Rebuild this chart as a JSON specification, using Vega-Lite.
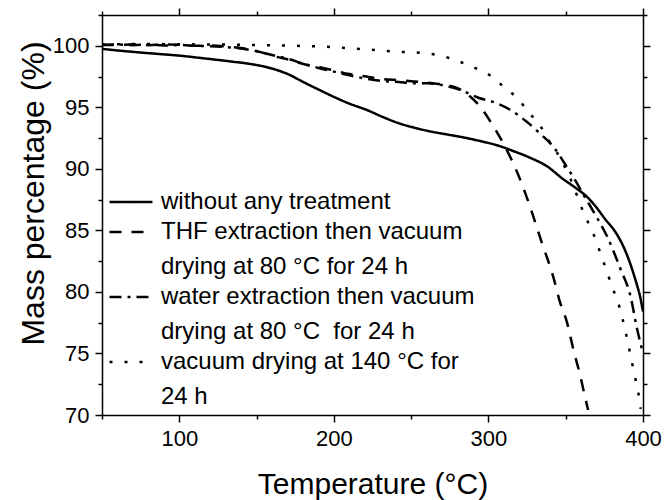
{
  "$schema": "https://vega.github.io/schema/vega-lite/v6.json",
  "width": 541,
  "height": 400,
  "autosize": {"type": "none"},
  "padding": {"left": 102, "top": 15, "right": 22, "bottom": 85},
  "background": "white",
  "config": {
    "view": {"stroke": null},
    "font": "Liberation Sans",
    "axis": {
      "domainColor": "black", "tickColor": "black", "labelColor": "black", "titleColor": "black",
      "labelFont": "Liberation Sans", "titleFont": "Liberation Sans",
      "labelFontSize": 22, "titleFontWeight": "normal", "grid": false,
      "domainWidth": 1.5, "tickWidth": 1.5, "labelFlush": false
    },
    "legend": {"labelFont": "Liberation Sans", "labelColor": "black"},
    "style": {"guide-label": {"lineHeight": 35}}
  },
  "data": {"values": [
    {"s": "without any treatment", "T": 50, "m": 99.75},
    {"s": "without any treatment", "T": 60, "m": 99.62},
    {"s": "without any treatment", "T": 75, "m": 99.45},
    {"s": "without any treatment", "T": 90, "m": 99.3},
    {"s": "without any treatment", "T": 100, "m": 99.2},
    {"s": "without any treatment", "T": 113, "m": 99.02},
    {"s": "without any treatment", "T": 125, "m": 98.85},
    {"s": "without any treatment", "T": 135, "m": 98.7},
    {"s": "without any treatment", "T": 146, "m": 98.52},
    {"s": "without any treatment", "T": 157, "m": 98.25},
    {"s": "without any treatment", "T": 165, "m": 97.95},
    {"s": "without any treatment", "T": 172, "m": 97.6},
    {"s": "without any treatment", "T": 178, "m": 97.2},
    {"s": "without any treatment", "T": 190, "m": 96.45},
    {"s": "without any treatment", "T": 200, "m": 95.85},
    {"s": "without any treatment", "T": 210, "m": 95.3},
    {"s": "without any treatment", "T": 221, "m": 94.8},
    {"s": "without any treatment", "T": 231, "m": 94.25},
    {"s": "without any treatment", "T": 241, "m": 93.75},
    {"s": "without any treatment", "T": 252, "m": 93.35},
    {"s": "without any treatment", "T": 262, "m": 93.05},
    {"s": "without any treatment", "T": 273, "m": 92.8},
    {"s": "without any treatment", "T": 284, "m": 92.55},
    {"s": "without any treatment", "T": 295, "m": 92.25},
    {"s": "without any treatment", "T": 306, "m": 91.9},
    {"s": "without any treatment", "T": 316, "m": 91.45},
    {"s": "without any treatment", "T": 327, "m": 90.9},
    {"s": "without any treatment", "T": 338, "m": 90.2},
    {"s": "without any treatment", "T": 348, "m": 89.2},
    {"s": "without any treatment", "T": 357, "m": 88.4},
    {"s": "without any treatment", "T": 364, "m": 87.7},
    {"s": "without any treatment", "T": 369, "m": 87.0},
    {"s": "without any treatment", "T": 375, "m": 86.0},
    {"s": "without any treatment", "T": 383, "m": 84.7},
    {"s": "without any treatment", "T": 388, "m": 83.5},
    {"s": "without any treatment", "T": 392, "m": 82.2},
    {"s": "without any treatment", "T": 396, "m": 80.6},
    {"s": "without any treatment", "T": 398, "m": 79.7},
    {"s": "without any treatment", "T": 400, "m": 78.4},

    {"s": "THF extraction then vacuum|drying at 80 °C for 24 h", "T": 50, "m": 100.1},
    {"s": "THF extraction then vacuum|drying at 80 °C for 24 h", "T": 60, "m": 100.05},
    {"s": "THF extraction then vacuum|drying at 80 °C for 24 h", "T": 70, "m": 100.12},
    {"s": "THF extraction then vacuum|drying at 80 °C for 24 h", "T": 80, "m": 100.05},
    {"s": "THF extraction then vacuum|drying at 80 °C for 24 h", "T": 90, "m": 100.1},
    {"s": "THF extraction then vacuum|drying at 80 °C for 24 h", "T": 100, "m": 100.08},
    {"s": "THF extraction then vacuum|drying at 80 °C for 24 h", "T": 110, "m": 100.0},
    {"s": "THF extraction then vacuum|drying at 80 °C for 24 h", "T": 120, "m": 100.02},
    {"s": "THF extraction then vacuum|drying at 80 °C for 24 h", "T": 130, "m": 99.95},
    {"s": "THF extraction then vacuum|drying at 80 °C for 24 h", "T": 138, "m": 99.85},
    {"s": "THF extraction then vacuum|drying at 80 °C for 24 h", "T": 146, "m": 99.7},
    {"s": "THF extraction then vacuum|drying at 80 °C for 24 h", "T": 155, "m": 99.4},
    {"s": "THF extraction then vacuum|drying at 80 °C for 24 h", "T": 163, "m": 99.1},
    {"s": "THF extraction then vacuum|drying at 80 °C for 24 h", "T": 170, "m": 98.9},
    {"s": "THF extraction then vacuum|drying at 80 °C for 24 h", "T": 178, "m": 98.6},
    {"s": "THF extraction then vacuum|drying at 80 °C for 24 h", "T": 186, "m": 98.35},
    {"s": "THF extraction then vacuum|drying at 80 °C for 24 h", "T": 193, "m": 98.2},
    {"s": "THF extraction then vacuum|drying at 80 °C for 24 h", "T": 200, "m": 98.0},
    {"s": "THF extraction then vacuum|drying at 80 °C for 24 h", "T": 210, "m": 97.7},
    {"s": "THF extraction then vacuum|drying at 80 °C for 24 h", "T": 221, "m": 97.5},
    {"s": "THF extraction then vacuum|drying at 80 °C for 24 h", "T": 231, "m": 97.3},
    {"s": "THF extraction then vacuum|drying at 80 °C for 24 h", "T": 242, "m": 97.2},
    {"s": "THF extraction then vacuum|drying at 80 °C for 24 h", "T": 252, "m": 97.1},
    {"s": "THF extraction then vacuum|drying at 80 °C for 24 h", "T": 264, "m": 96.95},
    {"s": "THF extraction then vacuum|drying at 80 °C for 24 h", "T": 273, "m": 96.8},
    {"s": "THF extraction then vacuum|drying at 80 °C for 24 h", "T": 281, "m": 96.5},
    {"s": "THF extraction then vacuum|drying at 80 °C for 24 h", "T": 288, "m": 95.9},
    {"s": "THF extraction then vacuum|drying at 80 °C for 24 h", "T": 295, "m": 95.0},
    {"s": "THF extraction then vacuum|drying at 80 °C for 24 h", "T": 303, "m": 93.5},
    {"s": "THF extraction then vacuum|drying at 80 °C for 24 h", "T": 312, "m": 91.5},
    {"s": "THF extraction then vacuum|drying at 80 °C for 24 h", "T": 319, "m": 89.6},
    {"s": "THF extraction then vacuum|drying at 80 °C for 24 h", "T": 327, "m": 86.9},
    {"s": "THF extraction then vacuum|drying at 80 °C for 24 h", "T": 334, "m": 84.2},
    {"s": "THF extraction then vacuum|drying at 80 °C for 24 h", "T": 342, "m": 81.2},
    {"s": "THF extraction then vacuum|drying at 80 °C for 24 h", "T": 346, "m": 79.3},
    {"s": "THF extraction then vacuum|drying at 80 °C for 24 h", "T": 351, "m": 77.45},
    {"s": "THF extraction then vacuum|drying at 80 °C for 24 h", "T": 355, "m": 75.3},
    {"s": "THF extraction then vacuum|drying at 80 °C for 24 h", "T": 359, "m": 73.4},
    {"s": "THF extraction then vacuum|drying at 80 °C for 24 h", "T": 363, "m": 71.2},
    {"s": "THF extraction then vacuum|drying at 80 °C for 24 h", "T": 364.5, "m": 70.4},

    {"s": "water extraction then vacuum|drying at 80 °C\u00a0 for 24 h", "T": 50, "m": 100.05},
    {"s": "water extraction then vacuum|drying at 80 °C\u00a0 for 24 h", "T": 60, "m": 100.1},
    {"s": "water extraction then vacuum|drying at 80 °C\u00a0 for 24 h", "T": 70, "m": 100.05},
    {"s": "water extraction then vacuum|drying at 80 °C\u00a0 for 24 h", "T": 80, "m": 100.1},
    {"s": "water extraction then vacuum|drying at 80 °C\u00a0 for 24 h", "T": 90, "m": 100.02},
    {"s": "water extraction then vacuum|drying at 80 °C\u00a0 for 24 h", "T": 100, "m": 100.06},
    {"s": "water extraction then vacuum|drying at 80 °C\u00a0 for 24 h", "T": 110, "m": 100.0},
    {"s": "water extraction then vacuum|drying at 80 °C\u00a0 for 24 h", "T": 120, "m": 99.97},
    {"s": "water extraction then vacuum|drying at 80 °C\u00a0 for 24 h", "T": 130, "m": 99.9},
    {"s": "water extraction then vacuum|drying at 80 °C\u00a0 for 24 h", "T": 140, "m": 99.78},
    {"s": "water extraction then vacuum|drying at 80 °C\u00a0 for 24 h", "T": 150, "m": 99.55},
    {"s": "water extraction then vacuum|drying at 80 °C\u00a0 for 24 h", "T": 160, "m": 99.25},
    {"s": "water extraction then vacuum|drying at 80 °C\u00a0 for 24 h", "T": 170, "m": 98.95},
    {"s": "water extraction then vacuum|drying at 80 °C\u00a0 for 24 h", "T": 180, "m": 98.55},
    {"s": "water extraction then vacuum|drying at 80 °C\u00a0 for 24 h", "T": 190, "m": 98.2},
    {"s": "water extraction then vacuum|drying at 80 °C\u00a0 for 24 h", "T": 200, "m": 97.9},
    {"s": "water extraction then vacuum|drying at 80 °C\u00a0 for 24 h", "T": 210, "m": 97.6},
    {"s": "water extraction then vacuum|drying at 80 °C\u00a0 for 24 h", "T": 220, "m": 97.35},
    {"s": "water extraction then vacuum|drying at 80 °C\u00a0 for 24 h", "T": 231, "m": 97.15},
    {"s": "water extraction then vacuum|drying at 80 °C\u00a0 for 24 h", "T": 242, "m": 97.05},
    {"s": "water extraction then vacuum|drying at 80 °C\u00a0 for 24 h", "T": 252, "m": 96.95},
    {"s": "water extraction then vacuum|drying at 80 °C\u00a0 for 24 h", "T": 261, "m": 96.95},
    {"s": "water extraction then vacuum|drying at 80 °C\u00a0 for 24 h", "T": 272, "m": 96.75},
    {"s": "water extraction then vacuum|drying at 80 °C\u00a0 for 24 h", "T": 282, "m": 96.4},
    {"s": "water extraction then vacuum|drying at 80 °C\u00a0 for 24 h", "T": 293, "m": 95.8},
    {"s": "water extraction then vacuum|drying at 80 °C\u00a0 for 24 h", "T": 306, "m": 95.3},
    {"s": "water extraction then vacuum|drying at 80 °C\u00a0 for 24 h", "T": 314, "m": 94.8},
    {"s": "water extraction then vacuum|drying at 80 °C\u00a0 for 24 h", "T": 325, "m": 93.8},
    {"s": "water extraction then vacuum|drying at 80 °C\u00a0 for 24 h", "T": 334, "m": 92.8},
    {"s": "water extraction then vacuum|drying at 80 °C\u00a0 for 24 h", "T": 342, "m": 91.8},
    {"s": "water extraction then vacuum|drying at 80 °C\u00a0 for 24 h", "T": 351, "m": 90.1},
    {"s": "water extraction then vacuum|drying at 80 °C\u00a0 for 24 h", "T": 356, "m": 89.1},
    {"s": "water extraction then vacuum|drying at 80 °C\u00a0 for 24 h", "T": 361, "m": 88.0},
    {"s": "water extraction then vacuum|drying at 80 °C\u00a0 for 24 h", "T": 369, "m": 86.3},
    {"s": "water extraction then vacuum|drying at 80 °C\u00a0 for 24 h", "T": 377, "m": 84.45},
    {"s": "water extraction then vacuum|drying at 80 °C\u00a0 for 24 h", "T": 385, "m": 82.0},
    {"s": "water extraction then vacuum|drying at 80 °C\u00a0 for 24 h", "T": 392, "m": 79.6},
    {"s": "water extraction then vacuum|drying at 80 °C\u00a0 for 24 h", "T": 396, "m": 77.1},
    {"s": "water extraction then vacuum|drying at 80 °C\u00a0 for 24 h", "T": 400, "m": 75.0},

    {"s": "vacuum drying at 140 °C for|24 h", "T": 50, "m": 100.1},
    {"s": "vacuum drying at 140 °C for|24 h", "T": 75, "m": 100.15},
    {"s": "vacuum drying at 140 °C for|24 h", "T": 100, "m": 100.12},
    {"s": "vacuum drying at 140 °C for|24 h", "T": 125, "m": 100.1},
    {"s": "vacuum drying at 140 °C for|24 h", "T": 150, "m": 100.06},
    {"s": "vacuum drying at 140 °C for|24 h", "T": 175, "m": 100.0},
    {"s": "vacuum drying at 140 °C for|24 h", "T": 198, "m": 99.9},
    {"s": "vacuum drying at 140 °C for|24 h", "T": 219, "m": 99.72},
    {"s": "vacuum drying at 140 °C for|24 h", "T": 241, "m": 99.52},
    {"s": "vacuum drying at 140 °C for|24 h", "T": 258, "m": 99.4},
    {"s": "vacuum drying at 140 °C for|24 h", "T": 269, "m": 99.2},
    {"s": "vacuum drying at 140 °C for|24 h", "T": 282, "m": 98.68},
    {"s": "vacuum drying at 140 °C for|24 h", "T": 293, "m": 98.1},
    {"s": "vacuum drying at 140 °C for|24 h", "T": 301, "m": 97.6},
    {"s": "vacuum drying at 140 °C for|24 h", "T": 310, "m": 96.65},
    {"s": "vacuum drying at 140 °C for|24 h", "T": 319, "m": 95.7},
    {"s": "vacuum drying at 140 °C for|24 h", "T": 326, "m": 94.6},
    {"s": "vacuum drying at 140 °C for|24 h", "T": 334, "m": 93.4},
    {"s": "vacuum drying at 140 °C for|24 h", "T": 339, "m": 92.3},
    {"s": "vacuum drying at 140 °C for|24 h", "T": 344, "m": 91.4},
    {"s": "vacuum drying at 140 °C for|24 h", "T": 348, "m": 90.5},
    {"s": "vacuum drying at 140 °C for|24 h", "T": 353, "m": 89.2},
    {"s": "vacuum drying at 140 °C for|24 h", "T": 358, "m": 87.6},
    {"s": "vacuum drying at 140 °C for|24 h", "T": 362, "m": 86.3},
    {"s": "vacuum drying at 140 °C for|24 h", "T": 367, "m": 85.0},
    {"s": "vacuum drying at 140 °C for|24 h", "T": 374, "m": 82.6},
    {"s": "vacuum drying at 140 °C for|24 h", "T": 381, "m": 80.1},
    {"s": "vacuum drying at 140 °C for|24 h", "T": 384, "m": 79.1},
    {"s": "vacuum drying at 140 °C for|24 h", "T": 389, "m": 76.6},
    {"s": "vacuum drying at 140 °C for|24 h", "T": 393, "m": 74.2},
    {"s": "vacuum drying at 140 °C for|24 h", "T": 395, "m": 73.0},
    {"s": "vacuum drying at 140 °C for|24 h", "T": 397, "m": 71.8},
    {"s": "vacuum drying at 140 °C for|24 h", "T": 398.5, "m": 70.5}
  ]},
  "layer": [
    {
      "mark": {"type": "line", "color": "black", "strokeWidth": 2.5, "interpolate": "monotone"},
      "encoding": {
        "x": {
          "field": "T", "type": "quantitative",
          "scale": {"domain": [50, 400], "nice": false, "zero": false},
          "axis": {
            "orient": "bottom",
            "values": [50, 100, 150, 200, 250, 300, 350, 400],
            "labelExpr": "datum.value % 100 === 0 ? datum.label : ''",
            "tickSize": {"condition": {"test": "datum.value % 100 === 0", "value": 7}, "value": 4},
            "labelPadding": 6,
            "title": "Temperature (°C)",
            "titleFontSize": 30,
            "titleX": 270.5, "titleY": 78,
            "titleBaseline": "alphabetic", "titleAlign": "center"
          }
        },
        "y": {
          "field": "m", "type": "quantitative",
          "scale": {"domain": [70, 102.5], "nice": false, "zero": false},
          "axis": {
            "orient": "left",
            "values": [70, 72.5, 75, 77.5, 80, 82.5, 85, 87.5, 90, 92.5, 95, 97.5, 100, 102.5],
            "labelExpr": "datum.value % 5 === 0 ? datum.label : ''",
            "tickSize": {"condition": {"test": "datum.value % 5 === 0", "value": 7}, "value": 4},
            "labelPadding": 6,
            "title": "Mass percentage (%)",
            "titleFontSize": 32,
            "titleAngle": -90,
            "titleX": -59, "titleY": 178,
            "titleBaseline": "alphabetic", "titleAlign": "center"
          }
        },
        "strokeDash": {
          "field": "s", "type": "nominal",
          "scale": {
            "domain": [
              "without any treatment",
              "THF extraction then vacuum|drying at 80 °C for 24 h",
              "water extraction then vacuum|drying at 80 °C\u00a0 for 24 h",
              "vacuum drying at 140 °C for|24 h"
            ],
            "range": [[1, 0], [12, 10], [12, 6, 3, 6], [3, 12]]
          },
          "legend": {
            "title": null,
            "orient": "none",
            "legendX": 17,
            "legendY": 175,
            "padding": 0,
            "symbolType": "M-2,0L2,0",
            "symbolSize": 462,
            "symbolStrokeWidth": 2.5,
            "symbolStrokeColor": "black",
            "symbolFillColor": "transparent",
            "labelFontSize": 24,
            "labelOffset": 18,
            "labelLimit": 600,
            "rowPadding": 6,
            "labelExpr": "split(datum.label, '|')"
          }
        }
      }
    },
    {
      "mark": {"type": "line", "opacity": 0},
      "encoding": {
        "x": {
          "field": "T", "type": "quantitative",
          "scale": {"domain": [50, 400], "nice": false, "zero": false},
          "axis": {
            "orient": "top", "labels": false, "title": null,
            "values": [50, 100, 150, 200, 250, 300, 350, 400],
            "tickSize": {"condition": {"test": "datum.value % 100 === 0", "value": 7}, "value": 4}
          }
        },
        "y": {
          "field": "m", "type": "quantitative",
          "scale": {"domain": [70, 102.5], "nice": false, "zero": false},
          "axis": {
            "orient": "right", "labels": false, "title": null,
            "values": [70, 72.5, 75, 77.5, 80, 82.5, 85, 87.5, 90, 92.5, 95, 97.5, 100, 102.5],
            "tickSize": {"condition": {"test": "datum.value % 5 === 0", "value": 7}, "value": 4}
          }
        },
        "detail": {"field": "s", "type": "nominal"}
      }
    }
  ],
  "resolve": {"axis": {"x": "independent", "y": "independent"}}
}
